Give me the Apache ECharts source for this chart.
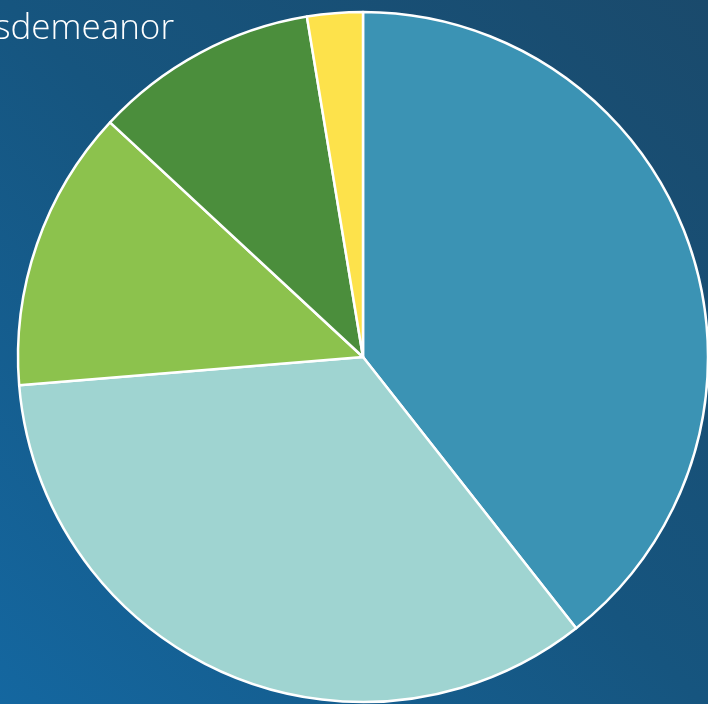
<!DOCTYPE html>
<html>
<head>
<meta charset="utf-8">
<script src="https://cdn.jsdelivr.net/npm/echarts@6/dist/echarts.min.js"></script>
<style>
  html, body { margin: 0; padding: 0; }
  #pie-chart { width: 708px; height: 704px; }
</style>
</head>
<body>
<div id="pie-chart"></div>
<script>
// slice shares (percent), clockwise from 12 o'clock
var sliceNames = ['A', 'B', 'C', 'D', 'E']
var sliceValues = [39.4, 34.3, 13.2, 10.5, 2.6]
var sliceColors = ['#3b93b4', '#9fd4d1', '#8cc24d', '#4b8e3c', '#fde24b']
var titleText = 'Misdemeanor'

var myChart = echarts.init(document.getElementById('pie-chart'))
var data = []
for (var i = 0; i < sliceValues.length; i++) {
  data.push({
    name: sliceNames[i],
    value: sliceValues[i],
    itemStyle: { color: sliceColors[i] }
  })
}
myChart.setOption({
  animation: false,
  backgroundColor: {
    type: 'linear',
    x: 1, y: 0, x2: 0, y2: 1,
    colorStops: [
      { offset: 0, color: '#1a4a6c' },
      { offset: 0.5, color: '#16557f' },
      { offset: 1, color: '#1467a0' }
    ]
  },
  graphic: [
    {
      type: 'text',
      x: 174,
      y: 12,
      style: {
        text: titleText,
        fill: '#ffffff',
        font: '300 35px "Open Sans", sans-serif',
        align: 'right',
        verticalAlign: 'top'
      }
    }
  ],
  series: [
    {
      type: 'pie',
      center: [363, 357],
      radius: [0, 345],
      startAngle: 90,
      clockwise: true,
      label: { show: false },
      labelLine: { show: false },
      emphasis: { disabled: true },
      itemStyle: {
        borderColor: '#ffffff',
        borderWidth: 2.5
      },
      data: data
    }
  ]
})
</script>
</body>
</html>
